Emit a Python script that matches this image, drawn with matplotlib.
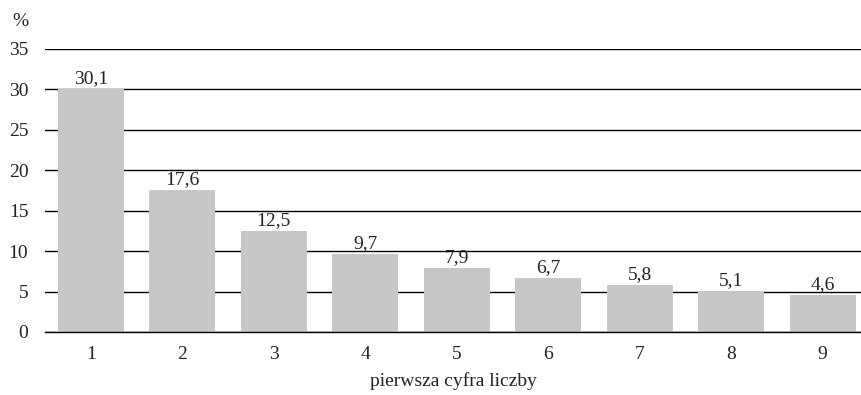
import matplotlib
matplotlib.use("Agg")
import matplotlib.pyplot as plt

digits = [1, 2, 3, 4, 5, 6, 7, 8, 9]
shares = [30.1, 17.6, 12.5, 9.7, 7.9, 6.7, 5.8, 5.1, 4.6]
value_labels = ["30,1", "17,6", "12,5", "9,7", "7,9", "6,7", "5,8", "5,1", "4,6"]
y_ticks = [0, 5, 10, 15, 20, 25, 30, 35]

plt.rcParams["font.family"] = ["Liberation Serif", "DejaVu Serif"]
fs = 14

fig = plt.figure(figsize=(8.62, 3.95), dpi=100)
ax = fig.add_axes([0.0522, 0.1595, 0.9478, 0.7165])

ax.set_axisbelow(True)
ax.yaxis.grid(True, color="black", linewidth=1.0)
ax.bar(digits, shares, width=0.72, color="#c6c7c9", zorder=2)

for x, v, lab in zip(digits, shares, value_labels):
    ax.text(x, v + 0.2, lab, ha="center", va="bottom", fontsize=fs, color="#222222")

ax.set_xlim(0.5, 9.43)
ax.set_ylim(0, 35)
ax.set_yticks(y_ticks)
ax.set_xticks(digits)
ax.tick_params(axis="both", length=0, labelsize=fs, colors="#222222")
ax.tick_params(axis="y", pad=12)
ax.tick_params(axis="x", pad=10)
for s in ["top", "right", "left"]:
    ax.spines[s].set_visible(False)
ax.spines["bottom"].set_color("black")
ax.spines["bottom"].set_linewidth(1.0)
ax.spines["bottom"].set_zorder(3)

ax.set_xlabel("pierwsza cyfra liczby", fontsize=fs, color="#222222", labelpad=7)
fig.text(0.024, 0.945, "%", fontsize=fs, color="#222222", ha="center", va="center")

fig.savefig("out.png", dpi=100)
